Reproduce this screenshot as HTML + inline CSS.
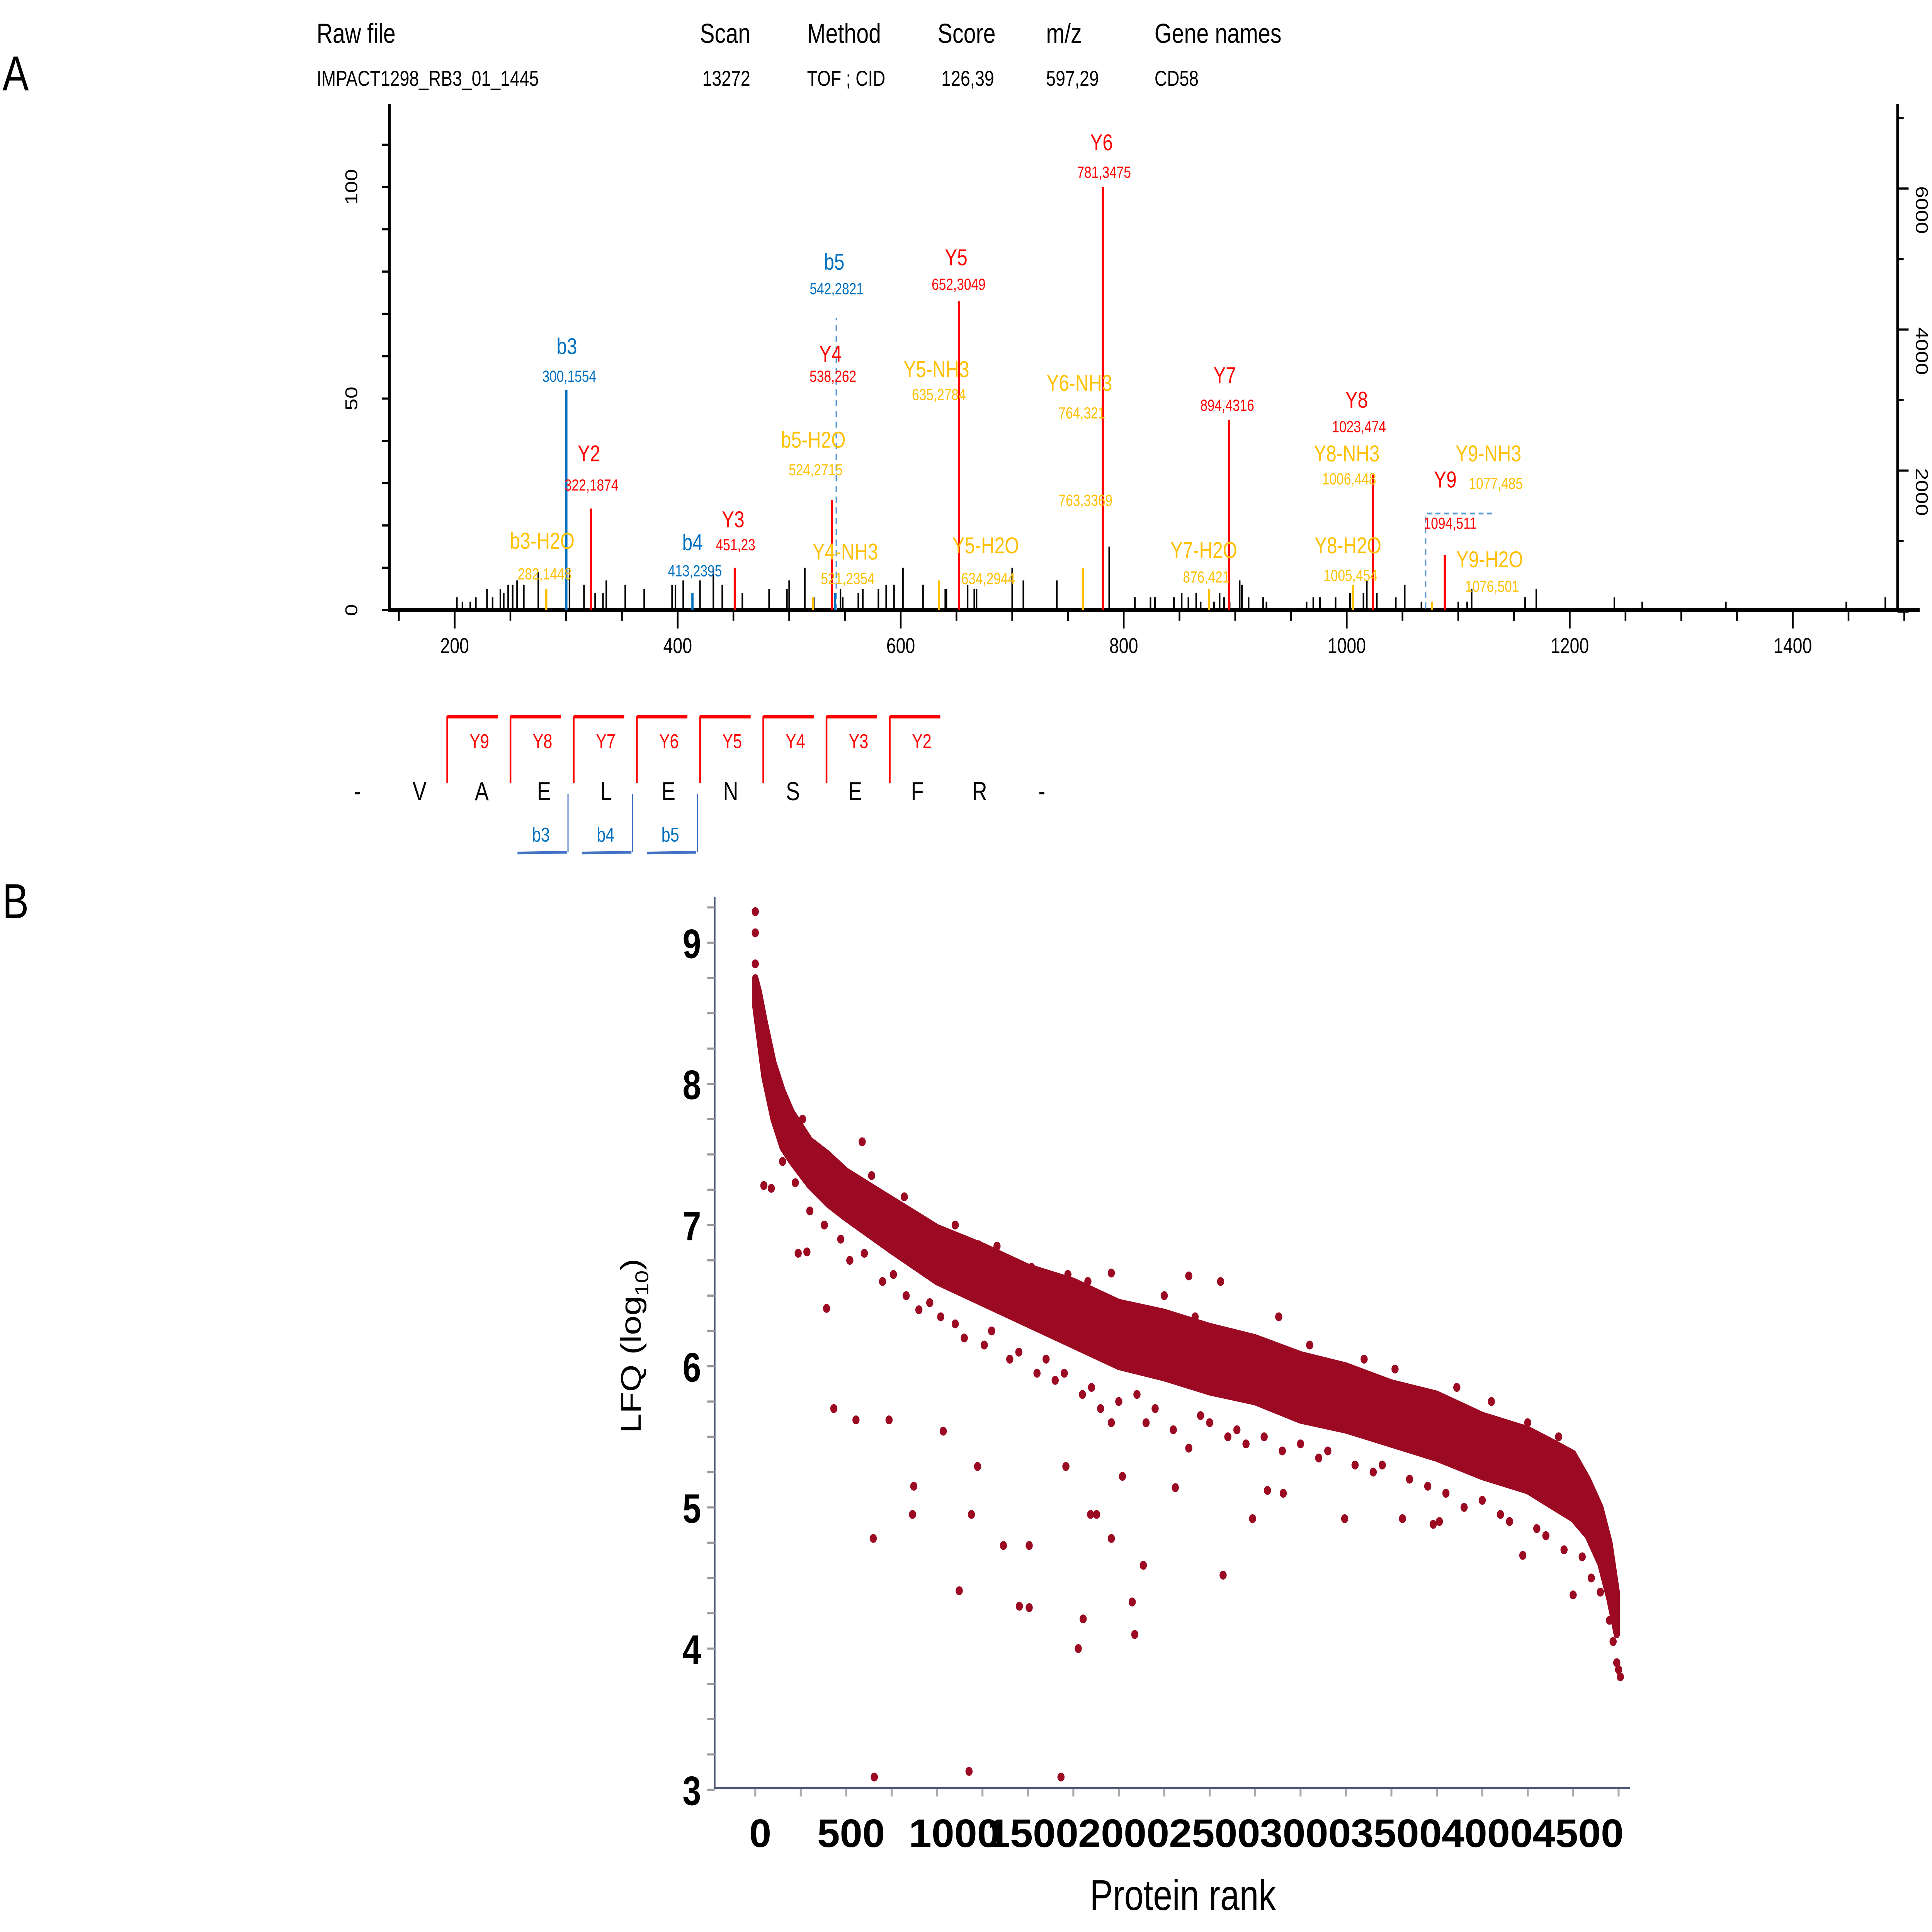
<!DOCTYPE html>
<html><head><meta charset="utf-8"><style>
html,body{margin:0;padding:0;background:#fff;width:100vw;height:100vh;overflow:hidden;}
svg{display:block;width:100vw;height:100vh;}
text{font-family:"Liberation Sans Narrow","Liberation Sans",sans-serif;}
</style></head><body>
<svg id="fig" xmlns="http://www.w3.org/2000/svg" viewBox="0 0 1568 1260.4" preserveAspectRatio="none">
<rect x="0" y="0" width="1568" height="1260.4" fill="#fff"/>
<g id="root">
<text x="2" y="59" font-size="32" fill="#000">A</text>
<text x="2" y="599" font-size="32" fill="#000">B</text>
<g font-size="18" fill="#000">
<text x="257" y="28">Raw file</text><text x="568" y="28">Scan</text><text x="655" y="28">Method</text><text x="761" y="28">Score</text><text x="849" y="28">m/z</text><text x="937" y="28">Gene names</text>
<g font-size="14"><text x="257" y="56">IMPACT1298_RB3_01_1445</text><text x="570" y="56">13272</text><text x="655" y="56">TOF ; CID</text><text x="764" y="56">126,39</text><text x="849" y="56">597,29</text><text x="937" y="56">CD58</text></g>
</g>
<g id="spec"></g>
<g id="seq"></g>
<g id="scat"></g>
</g>
</svg>
<script>
// ---------- Panel A data ----------
const noiseMz = [202,207,214,219,229,234,241,244,248,252,256,262,275,303,316,326,333,336,353,370,395,398,405,420,432,440,458,482,498,500,514,522,546,548,562,566,580,587,594,602,620,640,641,660,666,668,700,710,740,787,810,824,828,845,852,858,865,869,881,886,890,895,904,906,912,925,928,964,970,976,990,1003,1015,1018,1027,1044,1052,1067,1100,1108,1112,1160,1170,1240,1265,1340,1448,1483];
const noiseInt = [3,2,2,3,5,3,5,4,6,6,7,6,9,10,6,4,4,7,6,5,6,6,7,7,10,6,4,5,5,7,10,3,5,3,4,5,5,6,6,10,6,5,5,6,5,5,10,7,7,15,3,3,3,3,4,3,4,2,2,4,3,2,7,6,3,3,2,2,3,3,3,4,4,7,4,3,6,2,2,2,5,3,5,3,2,2,2,3];
const ionMz = [300.16,322.19,451.23,413.24,538.26,652.30,781.35,894.43,1023.47,1088,282.14,521.24,634.29,763.34,876.42,1005.45,1076.5,542.28];
const ionInt = [52,24,10,4,26,73,100,45,32,13,5,3,7,10,5,6,2,4];
const ionType = ["b","y","y","b","y","y","y","y","y","y","n","n","n","n","n","n","n","b"];
const xTicks = [200,400,600,800,1000,1200,1400];
const yTicks = [0,50,100];
const rTicks = [2000,4000,6000];
const ionLabels = [
["b3","300,1554","b",460,231,249],["Y2","322,1874","y",478,301,320],["Y3","451,23","y",595,344,359],
["b4","413,2395","b",562,359,376],["b3-H2O","282,1448","n",440,358,378],["b5","542,2821","b",677,176,192],
["Y4","538,262","y",674,236,249],["Y5","652,3049","y",776,173,189],["Y5-NH3","635,2784","n",760,246,261],
["b5-H2O","524,2715","n",660,292,310],["Y4-NH3","521,2354","n",686,365,381],["Y5-H2O","634,2944","n",800,361,381],
["Y6","781,3475","y",894,98,116],["Y6-NH3","764,321","n",876,255,273],["","763,3369","n",879,0,330],
["Y7","894,4316","y",994,250,268],["Y8","1023,474","y",1101,266,282],["Y8-NH3","1006,448","n",1093,301,316],
["Y9","","y",1173,318,0],["","1094,511","y",1175,0,345],["Y9-NH3","","n",1208,301,0],["","1077,485","n",1212,0,319],
["Y7-H2O","876,421","n",977,364,380],["Y8-H2O","1005,454","n",1094,361,379],["Y9-H2O","1076,501","n",1209,370,386]];
const COL = {b:"#0070c0", y:"#ff0000", n:"#ffc000"};
const NS = "http://www.w3.org/2000/svg";
function mk(tag, attrs, parent){const e=document.createElementNS(NS,tag);for(const k in attrs)e.setAttribute(k,attrs[k]);parent.appendChild(e);return e;}
const xA = m => 369 + (m-200)*0.905;
const yA = v => 398 - v*2.76;
const yR = v => 399 - v*0.046;
const spec = document.getElementById('spec');
let e;
e = mk('line',{x1:316,y1:68,x2:316,y2:399,stroke:'#000','stroke-width':2.2},spec);


e = mk('line',{x1:316,y1:398,x2:1558,y2:398,stroke:'#000','stroke-width':2.6},spec);


e = mk('line',{x1:1540,y1:68,x2:1540,y2:399,stroke:'#000','stroke-width':2},spec);


for(let v=0; v<=110; v+=10){ mk('line',{x1:310,y1:yA(v),x2:316,y2:yA(v),stroke:'#000','stroke-width':1.4},spec); }
yTicks.forEach(v=>{ e=mk('text',{x:0,y:0,'font-size':14,'text-anchor':'middle',fill:'#000',transform:`translate(290,${yA(v)}) rotate(-90)`,'font-family':'DejaVu Sans'},spec); e.textContent=v;

 });
for(let v=0; v<=7000; v+=1000){ mk('line',{x1:1540,y1:yR(v),x2:v%2000==0?1549:1545,y2:yR(v),stroke:'#000','stroke-width':1.4},spec); }
rTicks.forEach(v=>{ e=mk('text',{x:0,y:0,'font-size':14,'text-anchor':'middle',fill:'#000',transform:`translate(1555,${yR(v)+14}) rotate(90)`,'font-family':'DejaVu Sans'},spec); e.textContent=v;

 });
for(let m=150; m<=1500; m+=50){ mk('line',{x1:xA(m),y1:398,x2:xA(m),y2:m%200==0?410:405,stroke:'#000','stroke-width':1.4},spec); }
xTicks.forEach(m=>{ e=mk('text',{x:xA(m),y:426,'font-size':14,'text-anchor':'middle',fill:'#000'},spec); e.textContent=m;

 });
noiseMz.forEach((m,i)=>{ e=mk('line',{x1:xA(m),y1:398,x2:xA(m),y2:yA(noiseInt[i]),stroke:'#000','stroke-width':1.3},spec);

 });
ionMz.forEach((m,i)=>{ const dashed = i===ionMz.length-1;
 e=mk('line',{x1:xA(m),y1:398,x2:xA(m),y2:yA(dashed?69:ionInt[i]),stroke:dashed?'#5b9bd5':COL[ionType[i]],'stroke-width':dashed?1.2:1.8},spec);
 if(dashed){e.setAttribute('stroke-dasharray','4,3'); mk('line',{x1:xA(m)-1,y1:yA(ionInt[i]),x2:xA(m)-1,y2:398,stroke:COL.b,'stroke-width':1.6},spec);}
 
  });
e=mk('path',{d:'M1157,397 V335 H1213',fill:'none',stroke:'#5b9bd5','stroke-width':1.2,'stroke-dasharray':'4,3'},spec);


ionLabels.forEach(l=>{ const c=COL[l[2]];
 if(l[0]){ e=mk('text',{x:l[3],y:l[4],'font-size':15,'text-anchor':'middle',fill:c},spec); e.textContent=l[0];
 
  }
 if(l[1]){ e=mk('text',{x:l[3]+2,y:l[5],'font-size':10.5,'text-anchor':'middle',fill:c},spec); e.textContent=l[1];
 
  }
});
// ---------- sequence ----------
const seq = document.getElementById('seq');
const letters = ["-","V","A","E","L","E","N","S","E","F","R","-"];
const yIons = ["Y9","Y8","Y7","Y6","Y5","Y4","Y3","Y2"];
const bIons = ["b3","b4","b5"];
letters.forEach((t,i)=>{ e=mk('text',{x:290+i*50.5,y:522,'font-size':17,'text-anchor':'middle',fill:'#000'},seq); e.textContent=t;

 });
yIons.forEach((t,i)=>{ const x0=363+i*51.3;
 mk('path',{d:`M${x0},511 V468 H${x0+41}`,fill:'none',stroke:'#ff0000','stroke-width':1.4},seq);
 mk('line',{x1:x0,y1:467.5,x2:x0+41,y2:467.5,stroke:'#ff0000','stroke-width':2.2},seq);
 e=mk('text',{x:x0+26,y:488,'font-size':13,'text-anchor':'middle',fill:'#ff0000'},seq); e.textContent=t;
 
  });
bIons.forEach((t,i)=>{ const x1=461+i*52.5;
 mk('line',{x1:x1,y1:518,x2:x1,y2:556,stroke:'#4472c4','stroke-width':0.9},seq);
 mk('line',{x1:x1-41,y1:556.5,x2:x1-1,y2:556,stroke:'#4472c4','stroke-width':1.8},seq);
 e=mk('text',{x:x1-22,y:549,'font-size':13,'text-anchor':'middle',fill:'#0070c0'},seq); e.textContent=t;
 
  });
// ---------- Panel B data ----------
const bandRank = [0,20,50,100,150,200,300,400,500,750,1000,1250,1500,1750,2000,2250,2500,2750,3000,3250,3500,3750,4000,4250,4400,4500,4580,4650,4700,4740];
const bandUpper = [8.75,8.65,8.45,8.15,7.95,7.8,7.6,7.5,7.38,7.18,6.98,6.85,6.7,6.6,6.45,6.38,6.28,6.2,6.08,6.0,5.88,5.8,5.65,5.55,5.45,5.38,5.2,5.0,4.75,4.4];
const bandLower = [8.55,8.35,8.05,7.75,7.55,7.45,7.28,7.15,7.05,6.82,6.6,6.45,6.3,6.15,6.0,5.92,5.82,5.75,5.62,5.55,5.45,5.35,5.22,5.12,5.0,4.92,4.8,4.6,4.35,4.1];
const outRank = [0,0,0,47,88,236,284,392,432,554,655,649,736,872,865,1034,1122,1176,1223,1189,1365,1507,1453,1507,1682,1709,1777,1804,1845,1878,1959,2020,2074,2088,2135,1959,2311,2385,2574,2736,2818,2905,3243,3561,3730,3764,4223,4500,2385,588,1047,1230,1959];
const outVal = [9.22,9.07,8.85,7.28,7.26,6.8,6.81,6.41,5.7,5.62,3.09,4.78,5.62,5.15,4.95,5.54,4.41,3.13,5.29,4.95,4.73,4.73,4.3,4.29,3.09,5.29,4.0,4.21,4.95,4.95,4.78,5.22,4.33,4.1,4.59,5.6,5.14,5.42,4.52,4.92,5.12,5.1,4.92,4.92,4.88,4.9,4.66,4.38,6.64,7.59,6.86,6.86,6.66];
const edgeRank = [150,220,300,380,470,520,600,700,760,830,900,960,1020,1100,1150,1260,1300,1400,1450,1550,1600,1650,1700,1800,1850,1900,2000,2100,2150,2200,2300,2450,2500,2600,2650,2700,2800,2900,3000,3100,3150,3300,3400,3450,3600,3700,3800,3900,4000,4100,4150,4300,4350,4450,4550,4600,4650,4700,4720,4740,4750,4760];
const edgeVal = [7.45,7.3,7.1,7.0,6.9,6.75,6.8,6.6,6.65,6.5,6.4,6.45,6.35,6.3,6.2,6.15,6.25,6.05,6.1,5.95,6.05,5.9,5.95,5.8,5.85,5.7,5.75,5.8,5.6,5.7,5.55,5.65,5.6,5.5,5.55,5.45,5.5,5.4,5.45,5.35,5.4,5.3,5.25,5.3,5.2,5.15,5.1,5.0,5.05,4.95,4.9,4.85,4.8,4.7,4.65,4.5,4.4,4.2,4.05,3.9,3.85,3.8];
const topRank = [60,130,260,340,450,640,820,1100,1330,1520,1720,1830,2250,2420,2560,2880,3050,3350,3520,3860,4050,4250,4420];
const topVal = [8.2,7.9,7.75,7.55,7.4,7.35,7.2,7.0,6.85,6.7,6.65,6.6,6.5,6.35,6.6,6.35,6.15,6.05,5.98,5.85,5.75,5.6,5.5];
const rankTicks = [0,500,1000,1500,2000,2500,3000,3500,4000,4500];
const lfqTicks = [3,4,5,6,7,8,9];
const xB = r => 613 + r*0.1475;
const yB = v => 615 + (9-v)*92.1;
const scat = document.getElementById('scat');
const RED = '#9b0a22';
let d = 'M'+bandRank.map((r,i)=>xB(r)+','+yB(bandUpper[i])).join(' L');
for(let i=bandRank.length-1;i>=0;i--) d += ' L'+xB(bandRank[i])+','+yB(bandLower[i]);
e=mk('path',{d:d+'Z',fill:RED,stroke:RED,'stroke-width':5,'stroke-linejoin':'round'},scat);


[[outRank,outVal],[edgeRank,edgeVal],[topRank,topVal]].forEach(([R,V])=>{
 R.forEach((r,i)=>{ e=mk('circle',{cx:xB(r),cy:yB(V[i]),r:2.9,fill:RED},scat);
 
  });
});
e=mk('line',{x1:580,y1:585,x2:580,y2:1167,stroke:'#4a5876','stroke-width':1.4},scat);


e=mk('line',{x1:580,y1:1166.5,x2:1323,y2:1166.5,stroke:'#4a5876','stroke-width':1.4},scat);


for(let v=3; v<=9.26; v+=0.25){ mk('line',{x1:574,y1:yB(v),x2:580,y2:yB(v),stroke:'#999','stroke-width':1.4},scat); }
for(let r=0; r<=4750; r+=250){ mk('line',{x1:xB(r),y1:1167,x2:xB(r),y2:1172,stroke:'#aaa','stroke-width':1.6},scat); }
lfqTicks.forEach(v=>{ e=mk('text',{x:569,y:yB(v)+10,'font-size':27,'font-weight':'bold','text-anchor':'end',fill:'#000','font-family':'DejaVu Sans'},scat); e.textContent=v;
 
  });
rankTicks.forEach((r,i)=>{ const xx = r===1000 ? xB(r)+14 : xB(r)+4; e=mk('text',{x:xx,y:1205,'font-size':26,'font-weight':'bold','text-anchor':'middle',fill:'#000','font-family':'DejaVu Sans','textLength':r===0?18:(r===500?55:74),'lengthAdjust':'spacingAndGlyphs'},scat); e.textContent=r;
 
  });
e=mk('text',{x:960,y:1246,'font-size':28,'text-anchor':'middle',fill:'#000','font-family':'DejaVu Sans'},scat); e.textContent='Protein rank';


e=mk('text',{x:0,y:0,'font-size':23,'text-anchor':'middle',fill:'#000',transform:'translate(520,878) rotate(-90)','font-family':'DejaVu Sans'},scat);
e.innerHTML='LFQ (log<tspan font-size="15" dy="6">10</tspan><tspan dy="-6">)</tspan>';


</script>
</body></html>
